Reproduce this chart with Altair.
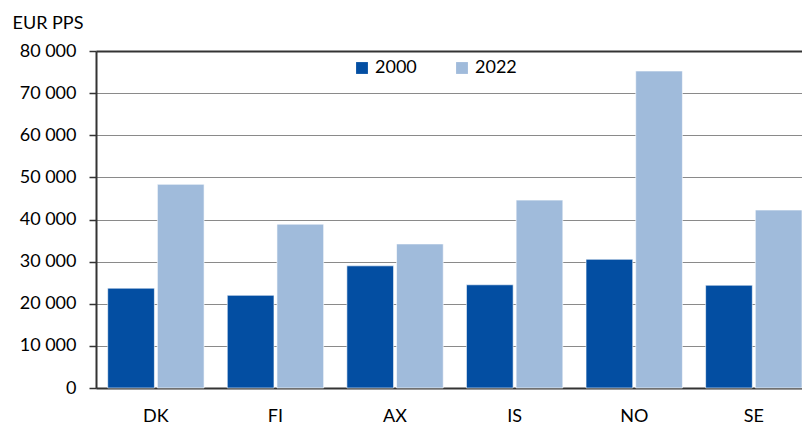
import altair as alt
import pandas as pd

countries = ["DK", "FI", "AX", "IS", "NO", "SE"]
years = ["2000", "2022"]
values_2000 = [23700, 22000, 29000, 24500, 30550, 24400]
values_2022 = [48350, 38900, 34200, 44600, 75250, 42250]

rows = []
for i, c in enumerate(countries):
    rows.append({"country": c, "year": "2000", "value": values_2000[i]})
    rows.append({"country": c, "year": "2022", "value": values_2022[i]})
df = pd.DataFrame(rows)

FONT = "Lato"
DARK = "#034EA2"
LIGHT = "#A0BBDB"

chart = alt.Chart(df).mark_bar(stroke="white", strokeWidth=1, strokeOpacity=0.6).encode(
    x=alt.X("country:N", sort=countries, title=None,
            scale=alt.Scale(paddingInner=0.194, paddingOuter=0.0489, align=1),
            axis=alt.Axis(labelAngle=0, ticks=False, labelPadding=19, labelFontSize=18,
                          labelFont=FONT, labelColor="#000", domainColor="#333",
                          domainWidth=2, grid=False)),
    xOffset=alt.XOffset("year:N", scale=alt.Scale(paddingInner=0.06)),
    y=alt.Y("value:Q", scale=alt.Scale(domain=[0, 80000]),
            axis=alt.Axis(values=list(range(0, 80001, 10000)),
                          labelExpr="datum.value == 0 ? '0' : format(datum.value / 1000, 'd') + ' 000'",
                          title="EUR PPS", titleAngle=0, titleX=-84, titleY=-23,
                          titleAlign="left", titleBaseline="alphabetic",
                          titleFont=FONT, titleFontSize=18, titleFontWeight="normal",
                          titleColor="#000",
                          labelFont=FONT, labelFontSize=18, labelColor="#000",
                          labelPadding=13, tickSize=7, tickColor="#333", tickWidth=1.5,
                          domainColor="#333", domainWidth=2,
                          gridColor={"condition": {"test": "datum.value == 80000", "value": "#333"}, "value": "#8a8a8a"},
                          gridWidth={"condition": {"test": "datum.value == 80000", "value": 2}, "value": 1})),
    color=alt.Color("year:N", scale=alt.Scale(domain=years, range=[DARK, LIGHT]),
                    legend=alt.Legend(title=None, orient="none", legendX=257, legendY=8,
                                      direction="horizontal", symbolType="square",
                                      symbolSize=140, symbolStrokeWidth=0,
                                      labelFont=FONT, labelFontSize=18, labelColor="#000",
                                      labelOffset=4, columnPadding=36)),
).properties(
    width=706, height=337,
    autosize=alt.AutoSizeParams(type="none"),
    padding={"left": 88, "top": 43, "right": 0, "bottom": 36},
).configure_view(stroke=None).configure(background="white")

chart.save("out.html", embed_options={"renderer": "svg", "actions": False})
